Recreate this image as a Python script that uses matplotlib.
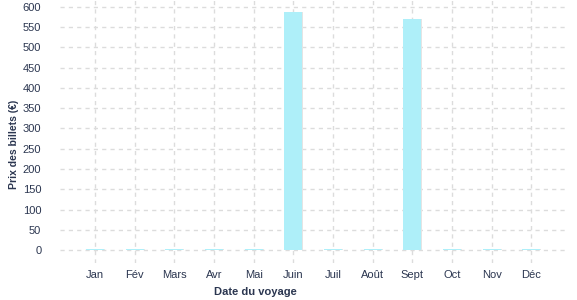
import matplotlib
matplotlib.use("Agg")
import matplotlib.pyplot as plt

# prix des billets par mois de voyage
mois = ["Jan", "Fév", "Mars", "Avr", "Mai", "Juin", "Juil", "Août", "Sept", "Oct", "Nov", "Déc"]
prix = [3, 3, 3, 3, 3, 587, 3, 3, 570, 3, 3, 3]

texte = "#2b3650"
barre = "#aeeff9"

plt.rcParams['font.family'] = ['Liberation Sans', 'DejaVu Sans']

fig = plt.figure(figsize=(5.77, 3.0), dpi=100)
ax = fig.add_axes([60 / 577, 1 - 263 / 300, 507 / 577, 263 / 300])

x = range(len(mois))
# petite ombre grise a droite des barres
ax.bar([i + 0.03 for i in x], prix, width=0.45, color="#e4e4e4", zorder=2)
ax.bar(x, prix, width=0.45, color=barre, zorder=3)

ax.set_xlim(-0.88, 11.9)
ax.set_ylim(-32, 617)
ax.set_yticks(range(0, 601, 50))
ax.set_xticks(list(x))
ax.set_xticklabels(mois)

ax.grid(True, color="#dcdcdc", linestyle=(0, (3, 3)), linewidth=1, zorder=0)
ax.set_axisbelow(True)
for s in ax.spines.values():
    s.set_visible(False)
ax.tick_params(length=0, labelsize=8, colors=texte)
ax.tick_params(axis="y", pad=13.5)
ax.tick_params(axis="x", pad=5)

ax.set_xlabel("Date du voyage", fontsize=8, fontweight="bold", color=texte)
ax.xaxis.set_label_coords(0.386, -0.092)
ax.set_ylabel("Prix des billets (€)", fontsize=7.5, fontweight="bold", color=texte)
ax.yaxis.set_label_coords(-0.080, 0.45)

fig.savefig("out.png", dpi=100)
